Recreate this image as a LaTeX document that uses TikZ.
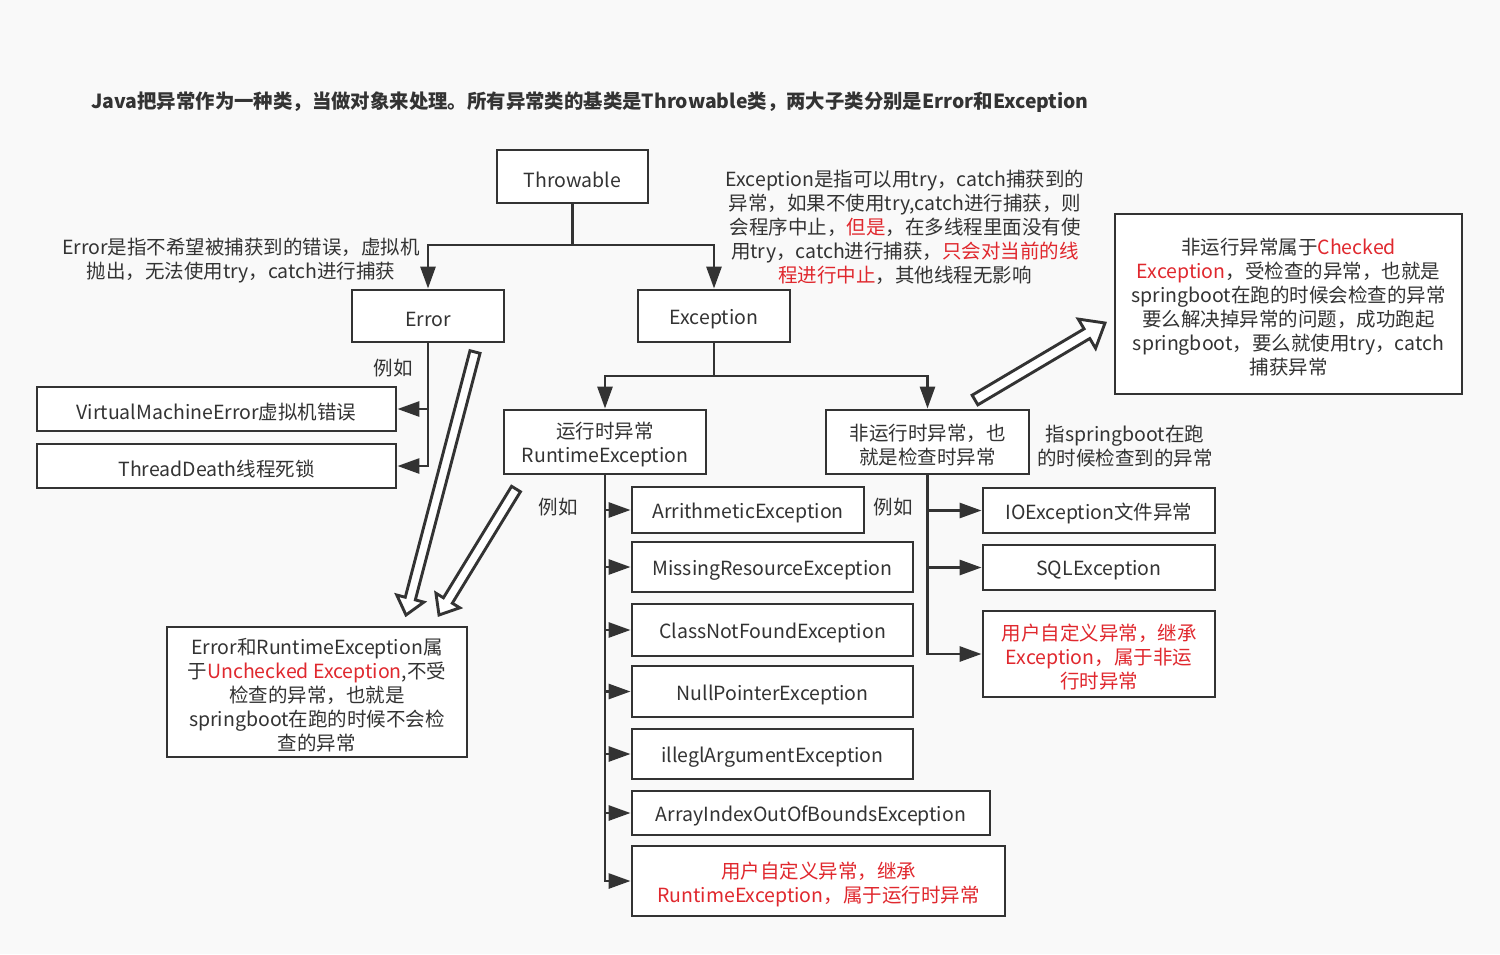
\documentclass[tikz,border=0pt]{standalone}
\usepackage{fontspec}
\setmainfont{Noto Sans CJK SC}
\usetikzlibrary{arrows.meta,calc}
\definecolor{linec}{HTML}{333333}
\definecolor{redc}{HTML}{E0282E}
\definecolor{bgc}{HTML}{F9F9F9}
\newcommand\redt[1]{\textcolor{redc}{#1}}
\newcommand\blockarrow[5]{%
  \coordinate (bhH) at ($(#2)!#5!(#1)$);
  \draw[blk] ($(#1)!#3!90:(#2)$) -- ($(bhH)!#3!90:(#2)$) -- ($(bhH)!#4!90:(#2)$) -- (#2)
    -- ($(bhH)!#4!-90:(#2)$) -- ($(bhH)!#3!-90:(#2)$) -- ($(#1)!#3!-90:(#2)$) -- cycle;}
% box: name, x, y, width, height, text options, text
\newcommand\bx[7]{%
  \node[box, minimum width=#4, minimum height=#5] (#1) at (#2,#3) {};
  \node[lbl,#6] (#1t) at ($(#1.center)+(0,3)$) {#7};}
\begin{document}
\begin{tikzpicture}[x=0.5pt,y=-0.5pt, font=\fontsize{9.75pt}{12pt}\selectfont, text=linec,
  box/.style={draw=linec, line width=1.45pt, fill=white, inner sep=0pt},
  conn/.style={draw=linec, line width=1.45pt, -{Triangle[length=11pt,width=7.5pt]}},
  lbl/.style={align=center, inner sep=0pt},
  blk/.style={draw=linec, line width=1.45pt, fill=white, line join=miter}]
\fill[bgc] (0,0) rectangle (1500,954);
\useasboundingbox (0,0) rectangle (1500,954);

\node[lbl, font=\fontsize{9.7pt}{12pt}\selectfont\bfseries] (title) at (590,102)
  {Java把异常作为一种类，当做对象来处理。所有异常类的基类是Throwable类，两大子类分别是Error和Exception};

% boxes
\bx{throw}{572.5}{176.5}{75.5pt}{26.5pt}{}{Throwable}
\bx{err}{428}{316}{76pt}{26pt}{}{Error}
\bx{exc}{714}{316}{76pt}{26pt}{}{Exception}
\bx{vme}{216.5}{409}{179.5pt}{22pt}{}{VirtualMachineError虚拟机错误}
\bx{td}{216.5}{466}{179.5pt}{22pt}{}{ThreadDeath线程死锁}
\bx{rte}{605}{442}{101pt}{32pt}{}{运行时异常\\RuntimeException}
\bx{chk}{927.5}{442}{101.5pt}{32pt}{}{非运行时异常，也\\就是检查时异常}
\bx{ae}{748}{510}{116pt}{23pt}{}{ArrithmeticException}
\bx{mre}{772.5}{567}{140.5pt}{25pt}{}{MissingResourceException}
\bx{cnf}{772.5}{630}{140.5pt}{26pt}{}{ClassNotFoundException}
\bx{npe}{772.5}{691.5}{140.5pt}{25.5pt}{}{NullPointerException}
\bx{iae}{772.5}{754}{140.5pt}{25pt}{}{illeglArgumentException}
\bx{aio}{811}{813}{179pt}{22pt}{}{ArrayIndexOutOfBoundsException}
\bx{urt}{818.5}{881}{186.5pt}{35pt}{text=redc}{用户自定义异常，继承\\RuntimeException，属于运行时异常}
\bx{ioe}{1099}{510.5}{116pt}{22.5pt}{}{IOException文件异常}
\bx{sql}{1099}{567.5}{116pt}{22.5pt}{}{SQLException}
\bx{uce}{1099}{654}{116pt}{43pt}{text=redc}{用户自定义异常，继承\\Exception，属于非运\\行时异常}
\bx{cbox}{1288.5}{304}{173.5pt}{90pt}{}{非运行异常属于\redt{Checked}\\\redt{Exception}，受检查的异常，也就是\\springboot在跑的时候会检查的异常\\要么解决掉异常的问题，成功跑起\\springboot，要么就使用try，catch\\捕获异常}
\bx{ubox}{317}{692}{150pt}{65pt}{}{Error和RuntimeException属\\于\redt{Unchecked Exception},不受\\检查的异常，也就是\\springboot在跑的时候不会检\\查的异常}

% labels
\node[lbl] (errnote) at (241,261) {Error是指不希望被捕获到的错误，虚拟机\\抛出，无法使用try，catch进行捕获};
\node[lbl] (excnote) at (905,227) {Exception是指可以用try，catch捕获到的\\异常，如果不使用try,catch进行捕获，则\\会程序中止，\redt{但是}，在多线程里面没有使\\用try，catch进行捕获，\redt{只会对当前的线}\\\redt{程进行中止}，其他线程无影响};
\node[lbl] (chknote) at (1125,446) {指springboot在跑\\的时候检查到的异常};
\node[lbl] (eg1) at (393,368) {例如};
\node[lbl] (eg2) at (558,507) {例如};
\node[lbl] (eg3) at (893,507) {例如};

% connectors
\coordinate (j1) at (572.5,245);
\coordinate (j2) at (714,376);
\draw[conn] (throw.south) -- (j1) -| (err.north);
\draw[conn] (throw.south) -- (j1) -| (exc.north);
\draw[conn] (err.south) |- (vme.east);
\draw[conn] (err.south) |- (td.east);
\draw[conn] (exc.south) -- (j2) -| (rte.north);
\draw[conn] (exc.south) -- (j2) -| (chk.north);
\foreach \t in {ae,mre,cnf,npe,iae,aio,urt}{\draw[conn] (rte.south) |- (\t.west);}
\foreach \t in {ioe,sql,uce}{\draw[conn] (chk.south) |- (\t.west);}

% block arrows
\coordinate (a1s) at (475,352); \coordinate (a1e) at (406,615);
\coordinate (a2s) at (516,489); \coordinate (a2e) at (439,615);
\coordinate (a3s) at (975,400); \coordinate (a3e) at (1105,323);
\blockarrow{a1s}{a1e}{2.6pt}{7pt}{8.5pt}
\blockarrow{a2s}{a2e}{2.6pt}{7pt}{8.5pt}
\blockarrow{a3s}{a3e}{2.8pt}{8.5pt}{10.5pt}
\end{tikzpicture}
\end{document}
